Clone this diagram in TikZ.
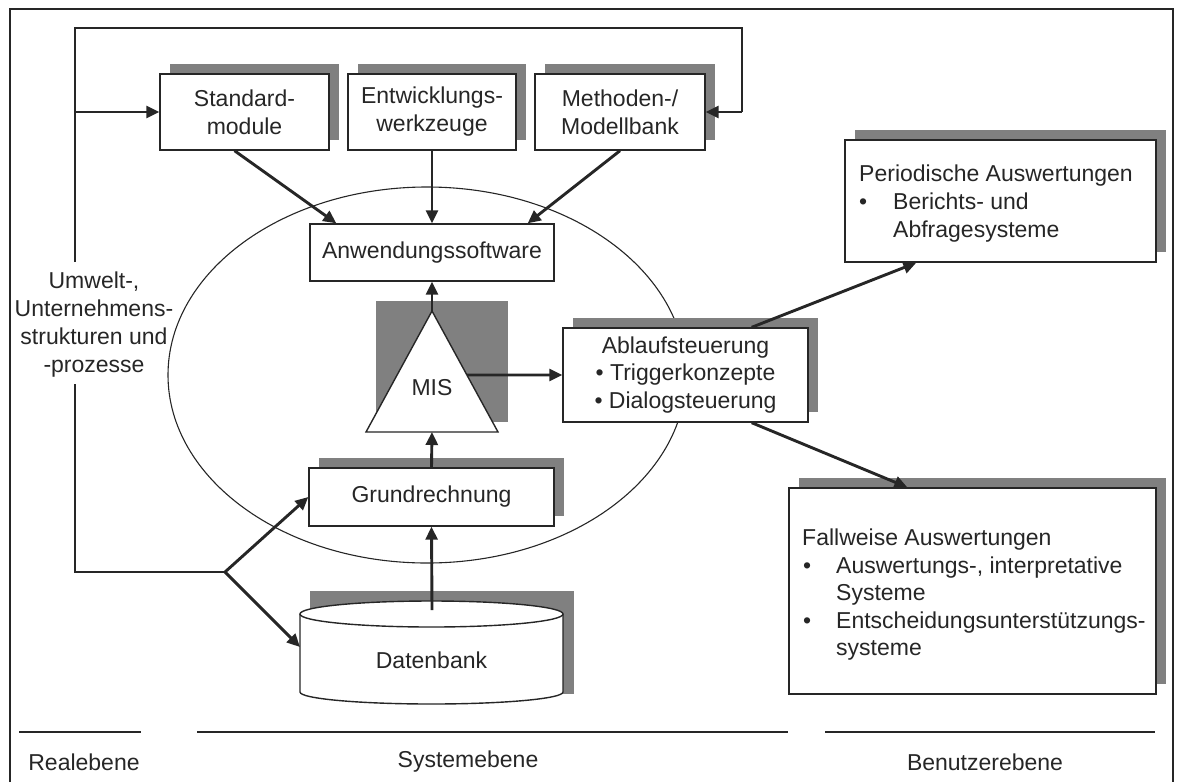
\documentclass[tikz,border=0pt]{standalone}
\usepackage{fontspec}
\setmainfont{Liberation Sans}
\usetikzlibrary{arrows.meta,shadows,shapes.geometric,calc}
\definecolor{ink}{HTML}{262626}
\definecolor{shgray}{HTML}{808080}
\begin{document}
\begin{tikzpicture}[x=1pt,y=-1pt,
  every node/.style={font=\fontsize{23}{28}\selectfont, text=ink},
  box/.style={draw=ink, line width=1.4pt, fill=white, inner sep=0pt, align=center},
  shbox/.style={box, drop shadow={shadow xshift=10pt, shadow yshift=10pt, fill=shgray, opacity=1}},
  boxline/.style={draw=ink, line width=1.4pt},
  loopline/.style={draw=ink, line width=1.5pt},
  arr/.style={draw=ink, line width=2.9pt, -{Triangle[length=13pt,width=12pt]}},
  txt/.style={inner sep=0pt, anchor=base west},
  sysell/.style={draw=ink, line width=1.1pt, ellipse, inner sep=0pt, minimum width=518pt, minimum height=376pt}]
\useasboundingbox (0,0) rectangle (1177,782);
\draw[boxline] (10,782) -- (10,9) -- (1173,9) -- (1173,782);

% system ellipse
\node[sysell] (sys) at (427,375) {};

% top boxes
\node[shbox, minimum width=169pt, minimum height=76pt] (std) at (244.5,112) {Standard-\\module};
\node[shbox, minimum width=168pt, minimum height=76pt] (ent) at (432,112) {Entwicklungs-\\werkzeuge};
\node[shbox, minimum width=170pt, minimum height=76pt] (met) at (620,112) {Methoden-/\\Modellbank};
\node[box, minimum width=244pt, minimum height=57pt] (anw) at (432,252.5) {Anwendungssoftware};

% MIS triangle
\coordinate (misA) at (432,311);
\coordinate (misL) at (366,432);
\coordinate (misR) at (498,432);
\coordinate (misB) at (432,432);
\fill[shgray] (376,301) rectangle (508,422);
\draw[boxline, fill=white] (misA) -- (misR) -- (misL) -- cycle;
\node (mis) at (432,388) {MIS};
\path (misA) -- (misR) coordinate[pos=0.529] (misE);

% Ablaufsteuerung
\node[shbox, minimum width=245pt, minimum height=94pt, font=\fontsize{23}{27.5}\selectfont] (abl) at (685.5,375) {Ablaufsteuerung\\• Triggerkonzepte\\• Dialogsteuerung};

% Grundrechnung
\node[shbox, minimum width=245pt, minimum height=58pt] (grd) at (431.5,497) {Grundrechnung};

% Datenbank cylinder
\fill[shgray] (310,591) rectangle (574,694);
\fill[white] (300,614) rectangle (563,692);
\fill[white] (431.5,614) ellipse [x radius=131.5, y radius=13];
\fill[white] (431.5,692) ellipse [x radius=131.5, y radius=12];
\draw[boxline] (300,614) -- (300,692) .. controls (300,698.63) and (358.9,704) .. (431.5,704) .. controls (504.1,704) and (563,698.63) .. (563,692) -- (563,614);
\draw[boxline] (431.5,614) ellipse [x radius=131.5, y radius=13];
\node (db) at (431.5,660) {Datenbank};
\coordinate (dbTop) at (432,610);
\coordinate (dbL) at (300,647);

% Periodische Auswertungen
\node[shbox, minimum width=311pt, minimum height=122pt] (per) at (1000.5,201) {};
\node[txt] (perH) at (859,181) {Periodische Auswertungen};
\node[txt] (perB1) at (859,209) {•};
\node[txt] (perT1) at (893,209) {Berichts- und};
\node[txt] (perT2) at (893,237) {Abfragesysteme};

% Fallweise Auswertungen
\node[shbox, minimum width=367pt, minimum height=206pt] (fal) at (972.5,591) {};
\node[txt] (falH) at (802,545) {Fallweise Auswertungen};
\node[txt] (falB1) at (803,573) {•};
\node[txt] (falT1) at (836,573) {Auswertungs-, interpretative};
\node[txt] (falT2) at (836,600) {Systeme};
\node[txt] (falB2) at (803,628) {•};
\node[txt] (falT3) at (836,628) {Entscheidungsunterstützungs-};
\node[txt] (falT4) at (836,655) {systeme};

% Left label and feedback loop
\node[align=center, inner sep=0pt] (lbl) at (94,325) {Umwelt-,\\Unternehmens-\\strukturen und\\-prozesse};
\coordinate (tl) at (75,28);
\coordinate (tr) at (742,28);
\coordinate (r1) at (742,112);
\coordinate (l1) at (75,112);
\coordinate (lgT) at (75,262);
\coordinate (lgB) at (75,384);
\coordinate (bl) at (75,572);
\coordinate (fork) at (225,572);
\draw[loopline] (lgT) -- (tl) -- (tr) -- (r1);
\draw[loopline] (lgB) -- (bl) -- (fork);
\draw[arr] (r1) -- (met.east);
\draw[arr] (l1) -- (std.west);
\draw[arr] (fork) -- (grd.west);
\draw[arr] (fork) -- (dbL);

% arrows
\draw[arr] ([xshift=-10pt]std.south) -- ([xshift=27pt]anw.north west);
\draw[arr] (ent.south) -- (anw.north);
\draw[arr] (met.south) -- ([xshift=-27pt]anw.north east);
\draw[arr] (misA) -- (anw.south);
\draw[arr] (grd.north) -- (misB);
\draw[arr] (dbTop) -- (grd.south);
\draw[arr] (misE) -- (abl.west);
\draw[arr] ([xshift=-57pt]abl.north east) -- ([xshift=72pt]per.south west);
\draw[arr] ([xshift=-57pt]abl.south east) -- ([xshift=119pt]fal.north west);

% level separators
\coordinate (s1a) at (19,732);
\coordinate (s1b) at (141,732);
\coordinate (s2a) at (197,732);
\coordinate (s2b) at (788,732);
\coordinate (s3a) at (825,732);
\coordinate (s3b) at (1155,732);
\draw[boxline] (s1a) -- (s1b);
\draw[boxline] (s2a) -- (s2b);
\draw[boxline] (s3a) -- (s3b);
\node (real) at (84,762) {Realebene};
\node (syst) at (468,762) {Systemebene};
\node (benu) at (985,762) {Benutzerebene};
\end{tikzpicture}
\end{document}
